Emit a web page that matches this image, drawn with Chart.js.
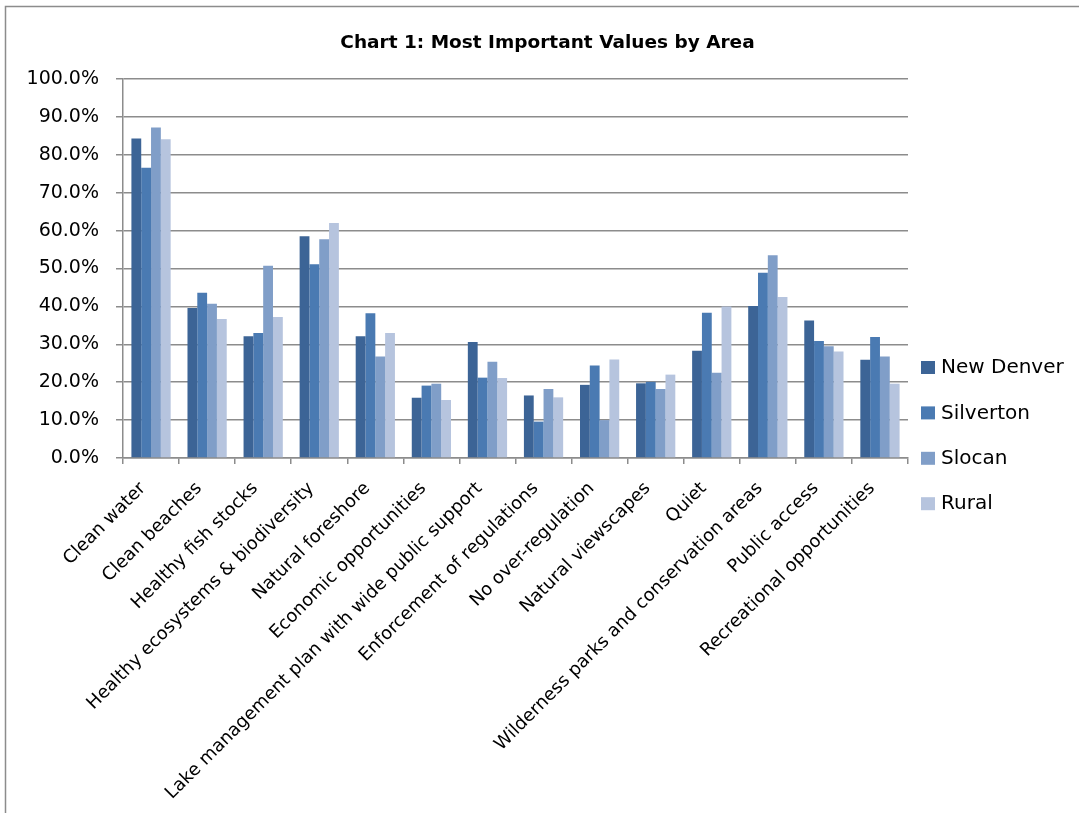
<!DOCTYPE html>
<html>
<head>
<meta charset="utf-8">
<script src="https://cdn.jsdelivr.net/npm/chart.js@4/dist/chart.umd.min.js"></script>
<style>
  html, body { margin: 0; padding: 0; background: #fff; overflow: hidden; }
  #wrap { width: 1079px; height: 813px; position: relative; }
  #myCanvas { display: block; }
</style>
</head>
<body>
<div id="wrap"><canvas id="myCanvas"></canvas></div>
<script>
let categories = ["Clean water", "Clean beaches", "Healthy fish stocks", "Healthy ecosystems & biodiversity",
  "Natural foreshore", "Economic opportunities", "Lake management plan with wide public support",
  "Enforcement of regulations", "No over-regulation", "Natural viewscapes", "Quiet",
  "Wilderness parks and conservation areas", "Public access", "Recreational opportunities"]

let newDenver = [84.3, 39.6, 32.1, 58.5, 32.1, 15.9, 30.6, 16.5, 19.3, 19.7, 28.3, 40.1, 36.3, 25.9]
let silverton = [76.6, 43.6, 33.0, 51.1, 38.2, 19.1, 21.2, 9.6, 24.4, 20.1, 38.3, 48.9, 30.9, 31.9]
let slocan = [87.2, 40.7, 50.7, 57.7, 26.8, 19.6, 25.4, 18.2, 10.0, 18.2, 22.5, 53.5, 29.5, 26.8]
let rural = [84.1, 36.7, 37.2, 62.0, 33.0, 15.3, 21.1, 16.0, 26.0, 22.0, 40.0, 42.5, 28.1, 19.6]

let seriesNames = ["New Denver", "Silverton", "Slocan", "Rural"]
let colors = ["#3c6496", "#4a7ab2", "#809ec8", "#b6c4de"]

let font = "'DejaVu Sans', sans-serif"

// frame around the chart (only left and top edges show in the picture)
const framePlugin = {
  id: "frame",
  beforeDraw(chart) {
    const ctx = chart.ctx
    ctx.save()
    ctx.fillStyle = "#fff"
    ctx.fillRect(0, 0, chart.width, chart.height)
    ctx.strokeStyle = "#8c8c8c"
    ctx.lineWidth = 1.5
    ctx.beginPath()
    ctx.moveTo(5.5, chart.height)
    ctx.lineTo(5.5, 6.5)
    ctx.lineTo(chart.width, 6.5)
    ctx.stroke()
    ctx.restore()
  }
}

// legend on the right, lower than the default one
const sideLegend = {
  id: "sideLegend",
  afterDraw(chart) {
    const ctx = chart.ctx
    ctx.save()
    ctx.font = "20px " + font
    ctx.textBaseline = "middle"
    ctx.textAlign = "left"
    chart.data.datasets.forEach((ds, i) => {
      const y = 368 + i * 45.4
      ctx.fillStyle = ds.backgroundColor
      ctx.fillRect(921, y - 7, 14, 13)
      ctx.fillStyle = "#000"
      ctx.fillText(ds.label, 941, y)
    })
    ctx.restore()
  }
}

let seriesValues = [newDenver, silverton, slocan, rural]

new Chart("myCanvas", {
  type: "bar",
  data: {
    labels: categories,
    datasets: seriesNames.map((name, i) => ({
      label: name,
      data: seriesValues[i],
      backgroundColor: colors[i],
      borderWidth: 0,
      categoryPercentage: 0.7,
      barPercentage: 1.0
    }))
  },
  options: {
    responsive: true,
    maintainAspectRatio: false,
    animation: false,
    layout: { padding: { left: 16, right: 0, top: 0, bottom: 0 } },
    plugins: {
      legend: { display: false },
      tooltip: { enabled: false },
      title: {
        display: true,
        text: "Chart 1: Most Important Values by Area",
        color: "#000",
        font: { family: font, size: 18.5, weight: "bold", lineHeight: 1.2 },
        padding: { top: 32, bottom: 24.8 }
      }
    },
    scales: {
      x: {
        grid: { display: true, drawOnChartArea: false, drawTicks: true, tickLength: 6, color: "#8c8c8c", lineWidth: 1.5 },
        border: { display: true, color: "#8c8c8c", width: 1.5 },
        ticks: {
          color: "#000",
          font: { family: font, size: 18 },
          autoSkip: false,
          minRotation: 45,
          maxRotation: 45,
          padding: 14,
          labelOffset: -8
        },
        afterFit(scale) { scale.height = 355 }
      },
      y: {
        min: 0,
        max: 100,
        grid: { color: "#8c8c8c", lineWidth: 1.5, tickLength: 7 },
        border: { display: true, color: "#8c8c8c", width: 1.5 },
        ticks: {
          stepSize: 10,
          color: "#000",
          font: { family: font, size: 19 },
          padding: 17,
          callback: v => v.toFixed(1) + "%"
        },
        afterFit(scale) { scale.width = 107 }
      },
      // empty right-hand box that leaves room for the legend
      side: {
        type: "linear",
        position: "right",
        grid: { display: false },
        border: { display: false },
        ticks: { display: false },
        afterFit(scale) { scale.width = 171 }
      }
    }
  },
  plugins: [framePlugin, sideLegend]
})
</script>
</body>
</html>
